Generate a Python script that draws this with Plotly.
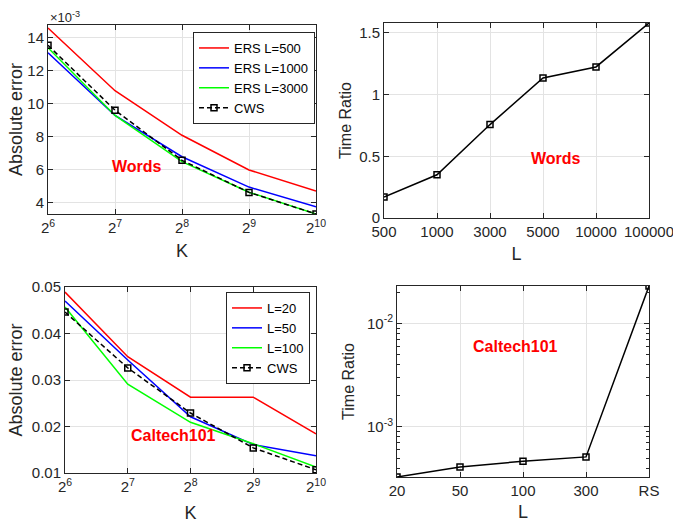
import math
import plotly.graph_objects as go

# ---------------- data ----------------
K = [64, 128, 256, 512, 1024]
K_text = ["2<sup>6</sup>", "2<sup>7</sup>", "2<sup>8</sup>", "2<sup>9</sup>", "2<sup>10</sup>"]

# Words: absolute error (units of 1e-3)
words_ers500 = [14.6, 10.8, 8.1, 6.0, 4.72]
words_ers1000 = [13.1, 9.3, 6.8, 4.96, 3.76]
words_ers3000 = [13.4, 9.3, 6.5, 4.65, 3.33]
words_cws = [13.55, 9.62, 6.58, 4.64, 3.33]

# Words: time ratio
words_L = ["500", "1000", "3000", "5000", "10000", "100000"]
words_ratio = [0.17, 0.35, 0.757, 1.135, 1.224, 1.58]

# Caltech101: absolute error
cal_L20 = [0.0489, 0.035, 0.0263, 0.0263, 0.0184]
cal_L50 = [0.047, 0.0343, 0.0221, 0.0161, 0.0137]
cal_L100 = [0.0457, 0.0291, 0.0209, 0.0163, 0.0113]
cal_cws = [0.0446, 0.0326, 0.0229, 0.0154, 0.0107]

# Caltech101: time ratio
cal_L = ["20", "50", "100", "300", "RS"]
cal_ratio = [3.28e-4, 4.1e-4, 4.66e-4, 5.13e-4, 0.023]

# ---------------- style ----------------
FONT = "Liberation Sans"
DARK = "#262626"
GRID = "#e3e3e3"
W, H = 673, 525


def xd(a, b):
    return [a / W, b / W]


def yd(top, bottom):
    return [1 - bottom / H, 1 - top / H]


def axis(title_size=18, **kw):
    d = dict(showline=True, linecolor=DARK, linewidth=1, mirror="ticks",
             ticks="inside", ticklen=5, tickcolor=DARK, tickwidth=1,
             showgrid=True, gridcolor=GRID, gridwidth=1, zeroline=False,
             automargin=False,
             tickfont=dict(family=FONT, size=15, color=DARK),
             title_font=dict(family=FONT, size=title_size, color=DARK))
    d.update(kw)
    return d


fig = go.Figure()


def add(x, y, name, color, xa, ya, legend=None, dash="solid", marker=False, showlegend=True):
    fig.add_trace(go.Scatter(
        x=x, y=y, name=name,
        mode="lines+markers" if marker else "lines",
        line=dict(color=color, width=1.5, dash=dash),
        marker=dict(symbol="square-open", size=6, color="black", line=dict(width=1.5, color="black")),
        xaxis=xa, yaxis=ya, legend=legend if legend else "legend",
        showlegend=showlegend))


# top-left
add(K, words_ers500, "ERS L=500", "#ff0000", "x", "y", "legend")
add(K, words_ers1000, "ERS L=1000", "#0000ff", "x", "y", "legend")
add(K, words_ers3000, "ERS L=3000", "#00ff00", "x", "y", "legend")
add(K, words_cws, "CWS", "black", "x", "y", "legend", dash="5px,3px", marker=True)

# top-right
add(words_L, words_ratio, "ratio", "black", "x2", "y2", marker=True, showlegend=False)

# bottom-left
add(K, cal_L20, "L=20", "#ff0000", "x3", "y3", "legend2")
add(K, cal_L50, "L=50", "#0000ff", "x3", "y3", "legend2")
add(K, cal_L100, "L=100", "#00ff00", "x3", "y3", "legend2")
add(K, cal_cws, "CWS", "black", "x3", "y3", "legend2", dash="5px,3px", marker=True)

# bottom-right
add(cal_L, cal_ratio, "ratio", "black", "x4", "y4", marker=True, showlegend=False)

lg = dict(bgcolor="white", bordercolor=DARK, borderwidth=1,
          font=dict(family=FONT, size=13, color="black"),
          xanchor="right", yanchor="top", tracegroupgap=0, itemwidth=30)

minor_log = [v * 10 ** e for e in (-4, -3, -2) for v in range(2, 10)]

fig.update_layout(
    width=W, height=H, margin=dict(l=0, r=0, t=0, b=0, autoexpand=False),
    paper_bgcolor="white", plot_bgcolor="white",
    xaxis=axis(type="log", domain=xd(48, 316), anchor="y",
               range=[math.log10(64), math.log10(1024)],
               tickmode="array", tickvals=K, ticktext=K_text,
               title=dict(text="K", standoff=9)),
    yaxis=axis(domain=yd(25, 214), anchor="x", range=[3.33, 14.78],
               tickmode="array", tickvals=[4, 6, 8, 10, 12, 14],
               title=dict(text="Absolute error", standoff=0)),
    xaxis2=axis(type="category", domain=xd(384, 649), anchor="y2",
                range=[0, 5], title=dict(text="L", standoff=8)),
    yaxis2=axis(title_size=16, domain=yd(23, 218), anchor="x2", range=[0, 1.58],
                tickmode="array", tickvals=[0, 0.5, 1, 1.5],
                ticktext=["0", "0.5", "1", "1.5"],
                title=dict(text="Time Ratio", standoff=3)),
    xaxis3=axis(type="log", domain=xd(65, 316), anchor="y3",
                range=[math.log10(64), math.log10(1024)],
                tickmode="array", tickvals=K, ticktext=K_text,
                title=dict(text="K", standoff=12)),
    yaxis3=axis(domain=yd(287, 473), anchor="x3", range=[0.01, 0.05],
                tickmode="array", tickvals=[0.01, 0.02, 0.03, 0.04, 0.05],
                ticktext=["0.01", "0.02", "0.03", "0.04", "0.05"],
                title=dict(text="Absolute error", standoff=4)),
    xaxis4=axis(type="category", domain=xd(397, 649), anchor="y4",
                range=[0, 4], title=dict(text="L", standoff=7)),
    yaxis4=axis(title_size=16, type="log", domain=yd(286, 477), anchor="x4",
                range=[math.log10(3.28e-4), math.log10(0.023)],
                tickmode="array", tickvals=[1e-3, 1e-2],
                ticktext=["10<sup>-3</sup>", "10<sup>-2</sup>"],
                minor=dict(tickmode="array", tickvals=minor_log, ticks="inside",
                           ticklen=3, tickcolor=DARK, showgrid=False),
                title=dict(text="Time Ratio", standoff=8)),
    legend=dict(lg, x=315 / W, y=1 - 32 / H),
    legend2=dict(lg, x=310 / W, y=1 - 292 / H),
    showlegend=True,
)

red_font = dict(family=FONT, size=16, color="#ff0000", weight="bold")
fig.add_annotation(text="<b>Words</b>", xref="x domain", yref="y domain",
                   x=0.231, y=0.196, showarrow=False, font=red_font)
fig.add_annotation(text="<b>Words</b>", xref="x2 domain", yref="y2 domain",
                   x=0.649, y=0.251, showarrow=False, font=red_font)
fig.add_annotation(text="<b>Caltech101</b>", xref="x3 domain", yref="y3 domain",
                   x=0.253, y=0.145, showarrow=False, font=red_font)
fig.add_annotation(text="<b>Caltech101</b>", xref="x4 domain", yref="y4 domain",
                   x=0.292, y=0.736, showarrow=False, font=red_font)
fig.add_annotation(text="×10<sup>-3</sup>", xref="paper", yref="paper",
                   x=48 / W, y=1 - 17 / H, xanchor="left", yanchor="middle",
                   showarrow=False, font=dict(family=FONT, size=13, color=DARK))

fig.write_html("out.html",
               config={"displayModeBar": False},
               post_script="document.body.style.margin='0px';"
                           "document.body.style.overflow='hidden';")
